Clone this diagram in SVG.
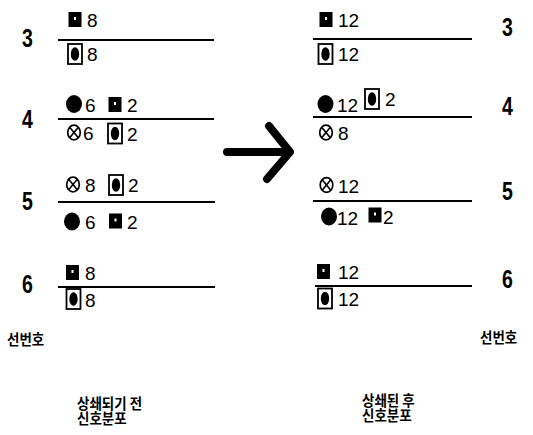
<svg xmlns="http://www.w3.org/2000/svg" width="533" height="435" viewBox="0 0 533 435">
<style>
.n{font-family:"Liberation Sans",Arial,sans-serif;font-size:19px;fill:#000}
.lb{font-family:"Liberation Sans",Arial,sans-serif;font-size:26px;font-weight:bold;fill:#000}
.k{font-family:"Noto Sans CJK KR","Noto Sans",sans-serif;font-size:15px;font-weight:bold;fill:#000}
.ln{stroke:#000;stroke-width:2;fill:none}
</style>
<defs>
<g id="sq"><rect x="-6.5" y="-7.5" width="13" height="15" fill="#000"/><rect x="-1" y="-2.5" width="2" height="3" fill="#fff"/></g>
<g id="fo"><rect x="-7" y="-10" width="14" height="20" fill="#fff" stroke="#000" stroke-width="1.8"/><ellipse cx="0" cy="0" rx="4.2" ry="6.8" fill="#000"/></g>
<g id="dot"><ellipse cx="0" cy="0" rx="8" ry="9" fill="#000"/></g>
<g id="xc"><ellipse cx="0" cy="0" rx="6.3" ry="7.3" fill="none" stroke="#000" stroke-width="1.7"/><path d="M-4.3-5.3L4.3 5.3M4.3-5.3L-4.3 5.3" stroke="#000" stroke-width="1.6"/></g>
</defs>

<g id="labels-left">
<text class="lb" transform="translate(22,47) scale(0.75,1)">3</text>
<text class="lb" transform="translate(22,128) scale(0.75,1)">4</text>
<text class="lb" transform="translate(22,210) scale(0.75,1)">5</text>
<text class="lb" transform="translate(22,293) scale(0.75,1)">6</text>
<text class="k" transform="translate(7,345) scale(0.9,1)">선번호</text>
</g>
<g id="labels-right">
<text class="lb" transform="translate(502,36) scale(0.75,1)">3</text>
<text class="lb" transform="translate(502,115) scale(0.75,1)">4</text>
<text class="lb" transform="translate(502,200) scale(0.75,1)">5</text>
<text class="lb" transform="translate(502,288) scale(0.75,1)">6</text>
<text class="k" transform="translate(480,343) scale(0.9,1)">선번호</text>
</g>

<g id="left-3">
<use href="#sq" x="75" y="19.5"/><text class="n" x="87" y="27">8</text>
<line class="ln" x1="58" y1="40" x2="214" y2="40"/>
<use href="#fo" x="75" y="54"/><text class="n" x="87" y="61">8</text>
</g>
<g id="left-4">
<use href="#dot" x="74" y="104"/><text class="n" x="85" y="112">6</text>
<use href="#sq" x="115" y="104.5"/><text class="n" x="127" y="112">2</text>
<line class="ln" x1="58" y1="119" x2="214" y2="119"/>
<use href="#xc" x="74" y="132.5"/><text class="n" x="83" y="140">6</text>
<use href="#fo" x="115" y="133.5"/><text class="n" x="127" y="141">2</text>
</g>
<g id="left-5">
<use href="#xc" x="73" y="184.5"/><text class="n" x="85" y="192">8</text>
<use href="#fo" x="116" y="185"/><text class="n" x="128" y="192">2</text>
<line class="ln" x1="58" y1="202" x2="215" y2="202"/>
<use href="#dot" x="72" y="221.5"/><text class="n" x="85" y="229">6</text>
<use href="#sq" x="115.5" y="221"/><text class="n" x="127" y="229">2</text>
</g>
<g id="left-6">
<use href="#sq" x="72.5" y="272.5"/><text class="n" x="85" y="280">8</text>
<line class="ln" x1="58" y1="287" x2="215" y2="287"/>
<use href="#fo" x="73.5" y="299"/><text class="n" x="85" y="307">8</text>
</g>

<g id="right-3">
<use href="#sq" x="326" y="19.5"/><text class="n" x="338" y="27">12</text>
<line class="ln" x1="313" y1="39" x2="472" y2="39"/>
<use href="#fo" x="325.5" y="54"/><text class="n" x="338" y="61">12</text>
</g>
<g id="right-4">
<use href="#dot" x="325.5" y="104"/><text class="n" x="337" y="112">12</text>
<use href="#fo" x="372" y="99"/><text class="n" x="385" y="106">2</text>
<line class="ln" x1="313" y1="117" x2="472" y2="117"/>
<use href="#xc" x="326" y="132.5"/><text class="n" x="338" y="140">8</text>
</g>
<g id="right-5">
<use href="#xc" x="326.5" y="185"/><text class="n" x="338" y="193">12</text>
<line class="ln" x1="313" y1="201" x2="472" y2="201"/>
<use href="#dot" x="329" y="216.5"/><text class="n" x="337" y="225">12</text>
<use href="#sq" x="375" y="215"/><text class="n" x="383" y="224">2</text>
</g>
<g id="right-6">
<use href="#sq" x="323.5" y="271.5"/><text class="n" x="338" y="279">12</text>
<line class="ln" x1="315" y1="286" x2="472" y2="286"/>
<use href="#fo" x="325" y="298.5"/><text class="n" x="338" y="306">12</text>
</g>

<g id="captions">
<text class="k" transform="translate(77,409) scale(0.9,1)"><tspan x="0" y="0">상쇄되기 전</tspan><tspan x="0" y="15">신호분포</tspan></text>
<text class="k" transform="translate(362,406) scale(0.9,1)"><tspan x="0" y="0">상쇄된 후</tspan><tspan x="0" y="15">신호분포</tspan></text>
</g>

<g id="connectors">
<path d="M227 152H289M269 126L290 152L267 179" fill="none" stroke="#000" stroke-width="8" stroke-linecap="round" stroke-linejoin="round"/>
</g>
</svg>
